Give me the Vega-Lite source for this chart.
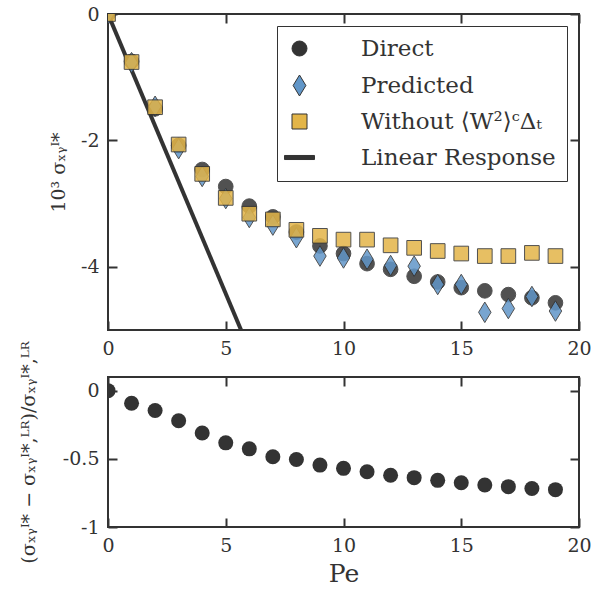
{
  "$schema": "https://vega.github.io/schema/vega-lite/v6.json",
  "padding": {"left": 18, "top": 4, "right": 28, "bottom": 2},
  "background": "white",
  "bounds": "flush",
  "spacing": 47,
  "config": {
    "font": "DejaVu Serif",
    "view": {"stroke": "#333333", "strokeWidth": 2},
    "axis": {
      "domain": false,
      "grid": false,
      "ticks": true,
      "tickSize": 9,
      "offset": -9,
      "tickColor": "#333333",
      "tickWidth": 2,
      "tickOpacity": 1,
      "labelFlush": false,
      "labelOverlap": false,
      "labelFont": "DejaVu Serif",
      "labelFontSize": 19,
      "labelColor": "#333333",
      "labelPadding": 9,
      "titleFont": "DejaVu Serif",
      "titleFontWeight": "normal",
      "titleColor": "#333333",
      "titleFontSize": 19
    }
  },
  "datasets": {
    "top": [
      {"Pe": 0, "series": "Direct", "v": 0},
      {"Pe": 1, "series": "Direct", "v": -0.75},
      {"Pe": 2, "series": "Direct", "v": -1.5},
      {"Pe": 3, "series": "Direct", "v": -2.08},
      {"Pe": 4, "series": "Direct", "v": -2.46},
      {"Pe": 5, "series": "Direct", "v": -2.73},
      {"Pe": 6, "series": "Direct", "v": -3.04},
      {"Pe": 7, "series": "Direct", "v": -3.21},
      {"Pe": 8, "series": "Direct", "v": -3.45},
      {"Pe": 9, "series": "Direct", "v": -3.67},
      {"Pe": 10, "series": "Direct", "v": -3.79},
      {"Pe": 11, "series": "Direct", "v": -3.95},
      {"Pe": 12, "series": "Direct", "v": -4.04},
      {"Pe": 13, "series": "Direct", "v": -4.15},
      {"Pe": 14, "series": "Direct", "v": -4.24},
      {"Pe": 15, "series": "Direct", "v": -4.33},
      {"Pe": 16, "series": "Direct", "v": -4.38},
      {"Pe": 17, "series": "Direct", "v": -4.44},
      {"Pe": 18, "series": "Direct", "v": -4.49},
      {"Pe": 19, "series": "Direct", "v": -4.57},
      {"Pe": 0, "series": "Predicted", "v": 0},
      {"Pe": 1, "series": "Predicted", "v": -0.77},
      {"Pe": 2, "series": "Predicted", "v": -1.46},
      {"Pe": 3, "series": "Predicted", "v": -2.13},
      {"Pe": 4, "series": "Predicted", "v": -2.57},
      {"Pe": 5, "series": "Predicted", "v": -2.92},
      {"Pe": 6, "series": "Predicted", "v": -3.22},
      {"Pe": 7, "series": "Predicted", "v": -3.34},
      {"Pe": 8, "series": "Predicted", "v": -3.54},
      {"Pe": 9, "series": "Predicted", "v": -3.83},
      {"Pe": 10, "series": "Predicted", "v": -3.86},
      {"Pe": 11, "series": "Predicted", "v": -3.88},
      {"Pe": 12, "series": "Predicted", "v": -3.98},
      {"Pe": 13, "series": "Predicted", "v": -3.99},
      {"Pe": 14, "series": "Predicted", "v": -4.28},
      {"Pe": 15, "series": "Predicted", "v": -4.28},
      {"Pe": 16, "series": "Predicted", "v": -4.72},
      {"Pe": 17, "series": "Predicted", "v": -4.66},
      {"Pe": 18, "series": "Predicted", "v": -4.47},
      {"Pe": 19, "series": "Predicted", "v": -4.7},
      {"Pe": 0, "series": "Without ⟨W²⟩ᶜΔₜ", "v": 0},
      {"Pe": 1, "series": "Without ⟨W²⟩ᶜΔₜ", "v": -0.76},
      {"Pe": 2, "series": "Without ⟨W²⟩ᶜΔₜ", "v": -1.475},
      {"Pe": 3, "series": "Without ⟨W²⟩ᶜΔₜ", "v": -2.065},
      {"Pe": 4, "series": "Without ⟨W²⟩ᶜΔₜ", "v": -2.53},
      {"Pe": 5, "series": "Without ⟨W²⟩ᶜΔₜ", "v": -2.91},
      {"Pe": 6, "series": "Without ⟨W²⟩ᶜΔₜ", "v": -3.16},
      {"Pe": 7, "series": "Without ⟨W²⟩ᶜΔₜ", "v": -3.25},
      {"Pe": 8, "series": "Without ⟨W²⟩ᶜΔₜ", "v": -3.415},
      {"Pe": 9, "series": "Without ⟨W²⟩ᶜΔₜ", "v": -3.51},
      {"Pe": 10, "series": "Without ⟨W²⟩ᶜΔₜ", "v": -3.57},
      {"Pe": 11, "series": "Without ⟨W²⟩ᶜΔₜ", "v": -3.57},
      {"Pe": 12, "series": "Without ⟨W²⟩ᶜΔₜ", "v": -3.66},
      {"Pe": 13, "series": "Without ⟨W²⟩ᶜΔₜ", "v": -3.7},
      {"Pe": 14, "series": "Without ⟨W²⟩ᶜΔₜ", "v": -3.75},
      {"Pe": 15, "series": "Without ⟨W²⟩ᶜΔₜ", "v": -3.79},
      {"Pe": 16, "series": "Without ⟨W²⟩ᶜΔₜ", "v": -3.83},
      {"Pe": 17, "series": "Without ⟨W²⟩ᶜΔₜ", "v": -3.83},
      {"Pe": 18, "series": "Without ⟨W²⟩ᶜΔₜ", "v": -3.78},
      {"Pe": 19, "series": "Without ⟨W²⟩ᶜΔₜ", "v": -3.83}
    ],
    "lr": [
      {"Pe": 0, "v": 0},
      {"Pe": 5.65, "v": -5}
    ],
    "ratio": [
      {"Pe": 0, "r": 0},
      {"Pe": 1, "r": -0.092},
      {"Pe": 2, "r": -0.146},
      {"Pe": 3, "r": -0.221},
      {"Pe": 4, "r": -0.311},
      {"Pe": 5, "r": -0.383},
      {"Pe": 6, "r": -0.427},
      {"Pe": 7, "r": -0.485},
      {"Pe": 8, "r": -0.505},
      {"Pe": 9, "r": -0.546},
      {"Pe": 10, "r": -0.57},
      {"Pe": 11, "r": -0.595},
      {"Pe": 12, "r": -0.621},
      {"Pe": 13, "r": -0.638},
      {"Pe": 14, "r": -0.658},
      {"Pe": 15, "r": -0.675},
      {"Pe": 16, "r": -0.692},
      {"Pe": 17, "r": -0.704},
      {"Pe": 18, "r": -0.718},
      {"Pe": 19, "r": -0.726}
    ]
  },
  "vconcat": [
    {
      "width": 471,
      "height": 316,
      "resolve": {"axis": {"x": "independent", "y": "independent"}},
      "layer": [
        {
          "data": {"name": "lr"},
          "mark": {"type": "line", "color": "#333333", "strokeWidth": 4, "clip": true},
          "encoding": {
            "x": {"field": "Pe", "type": "quantitative", "scale": {"domain": [0, 20], "nice": false},
              "axis": {"orient": "bottom", "values": [0, 5, 10, 15, 20], "title": null, "labelExpr": "datum.value + ''"}},
            "y": {"field": "v", "type": "quantitative", "scale": {"domain": [-5, 0], "nice": false},
              "axis": {"orient": "left", "values": [0, -2, -4], "title": "10³  σₓᵧᴵ*", "titlePadding": 12, "labelExpr": "datum.value + ''"}}
          }
        },
        {
          "data": {"name": "top"},
          "mark": {"type": "point", "filled": true, "stroke": "#333333", "strokeWidth": 1, "size": 215, "opacity": 0.85, "clip": true},
          "encoding": {
            "x": {"field": "Pe", "type": "quantitative",
              "axis": {"orient": "top", "values": [0, 5, 10, 15, 20], "labels": false, "title": null}},
            "y": {"field": "v", "type": "quantitative",
              "axis": {"orient": "right", "values": [0, -2, -4], "labels": false, "title": null}},
            "color": {
              "field": "series", "type": "nominal",
              "scale": {
                "domain": ["Direct", "Predicted", "Without ⟨W²⟩ᶜΔₜ", "Linear Response"],
                "range": ["#333333", "#6196c8", "#e3b548", "#333333"]
              },
              "legend": {
                "title": null,
                "orient": "top-right",
                "offset": 12,
                "padding": 11,
                "strokeColor": "#333333",
                "fillColor": "white",
                "labelFontSize": 23,
                "labelFont": "DejaVu Serif",
                "labelColor": "#333333",
                "labelOffset": 50,
                "labelLimit": 400,
                "symbolSize": 225,
                "symbolOpacity": 1,
                "symbolStrokeWidth": 1,
                "rowPadding": 12,
                "cornerRadius": 0,
                "encode": {
                  "symbols": {
                    "update": {
                      "stroke": {"value": "#333333"}
                    }
                  }
                }
              }
            },
            "shape": {
              "field": "series", "type": "nominal",
              "scale": {
                "domain": ["Direct", "Predicted", "Without ⟨W²⟩ᶜΔₜ", "Linear Response"],
                "range": ["circle", "M0,-1.4L0.85,0L0,1.4L-0.85,0Z", "square", "M-2,-0.27H2V0.27H-2Z"]
              },
              "legend": {"title": null}
            }
          }
        }
      ]
    },
    {
      "width": 471,
      "height": 150,
      "data": {"name": "ratio"},
      "resolve": {"axis": {"x": "independent", "y": "independent"}},
      "layer": [
        {
          "mark": {"type": "point", "filled": true, "color": "#333333", "size": 225, "opacity": 1, "clip": true},
          "encoding": {
            "x": {"field": "Pe", "type": "quantitative", "scale": {"domain": [0, 20], "nice": false},
              "axis": {"orient": "bottom", "values": [0, 5, 10, 15, 20], "title": "Pe", "titleFontSize": 25, "titlePadding": 6, "labelExpr": "datum.value + ''"}},
            "y": {"field": "r", "type": "quantitative", "scale": {"domain": [-1, 0.1], "nice": false},
              "axis": {"orient": "left", "values": [0, -0.5, -1], "title": "(σₓᵧᴵ* − σₓᵧᴵ*,ᴸᴿ)/σₓᵧᴵ*,ᴸᴿ", "titlePadding": 24, "labelExpr": "datum.value + ''"}}
          }
        },
        {
          "mark": {"type": "point", "opacity": 0},
          "encoding": {
            "x": {"field": "Pe", "type": "quantitative",
              "axis": {"orient": "top", "values": [0, 5, 10, 15, 20], "labels": false, "title": null}},
            "y": {"field": "r", "type": "quantitative",
              "axis": {"orient": "right", "values": [0, -0.5, -1], "labels": false, "title": null}}
          }
        }
      ]
    }
  ]
}
